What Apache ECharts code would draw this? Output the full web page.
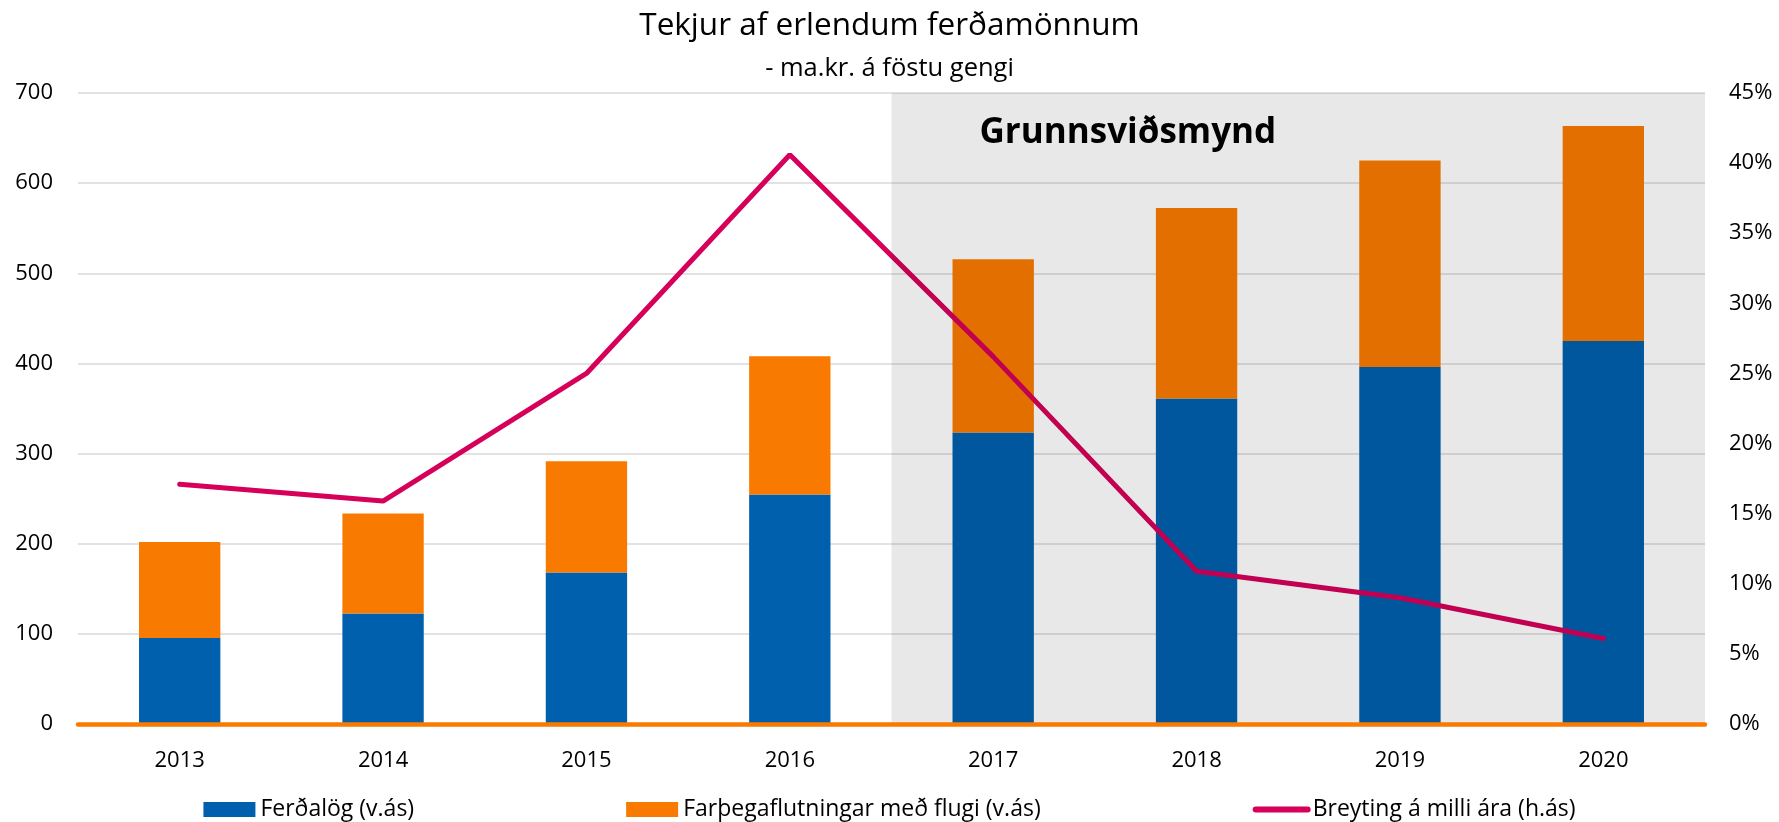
<!DOCTYPE html>
<html>
<head>
<meta charset="utf-8">
<title>Tekjur af erlendum ferðamönnum</title>
<script src="https://cdn.jsdelivr.net/npm/echarts@6.0.0/dist/echarts.min.js"></script>
<style>
	html, body { margin: 0; padding: 0; background: #fff; }
	#chart { width: 1779px; height: 822px; }
</style>
</head>
<body>
<div id="chart"></div>
<script>
	var years = ['2013', '2014', '2015', '2016', '2017', '2018', '2019', '2020'];
	// ma.kr. (v.ás)
	var ferdalog = [95.5, 122.5, 168, 254.5, 323.5, 361, 396, 425];
	var farthegaflutningar = [106.5, 111, 123.5, 153.5, 192, 211.5, 229, 238.5];
	// % (h.ás)
	var breyting = [17.1, 15.9, 25.0, 40.6, 26.2, 10.9, 9.0, 6.1];
	var leftTicks = [0, 700, 100];
	var rightTicks = [0, 45, 5];
	// fyrsta ár grunnsviðsmyndar
	var spaFra = '2017';

	var font = '"Open Sans", "Noto Sans", sans-serif';
	var spaIdx = years.indexOf(spaFra);

	var myChart = echarts.init(document.getElementById('chart'));

	var option = {
		animation: false,
		textStyle: { fontFamily: font },
		title: {
			text: 'Tekjur af erlendum ferðamönnum',
			subtext: '- ma.kr. á föstu gengi',
			left: 'center',
			top: 5,
			padding: [5, 23, 5, 5],
			itemGap: 14,
			textStyle: { fontFamily: font, fontSize: 31.5, fontWeight: 'normal', color: '#000' },
			subtextStyle: { fontFamily: font, fontSize: 25.5, color: '#000' }
		},
		grid: {
			left: 78,
			right: 74,
			top: 93,
			bottom: 98,
			containLabel: false
		},
		legend: {
			bottom: -4,
			left: 'center',
			padding: [5, 24, 5, 5],
			itemWidth: 52,
			itemHeight: 15,
			itemGap: 212,
			textStyle: { fontFamily: font, fontSize: 23, color: '#000' },
			data: [
				{ name: 'Ferðalög (v.ás)', icon: 'rect' },
				{ name: 'Farþegaflutningar með flugi (v.ás)', icon: 'rect' },
				{
					name: 'Breyting á milli ára (h.ás)',
					itemStyle: { opacity: 0 },
					lineStyle: { width: 6, cap: 'round' }
				}
			]
		},
		xAxis: [{
			type: 'category',
			data: years,
			z: 20,
			axisLine: { lineStyle: { color: '#F97A00', width: 4.5 } },
			axisTick: { show: false },
			axisLabel: { margin: 26, fontFamily: font, fontSize: 22, color: '#000' }
		}, {
			// falinn ás fyrir skyggða svæðið
			type: 'value',
			min: -0.5,
			max: years.length - 0.5,
			show: false
		}],
		yAxis: [{
			type: 'value',
			min: leftTicks[0],
			max: leftTicks[1],
			interval: leftTicks[2],
			axisLine: { show: false },
			axisTick: { show: false },
			splitLine: { lineStyle: { color: '#D9D9D9', width: 1.5 } },
			axisLabel: { margin: 25, fontFamily: font, fontSize: 22, color: '#000' }
		}, {
			type: 'value',
			min: rightTicks[0],
			max: rightTicks[1],
			interval: rightTicks[2],
			axisLine: { show: false },
			axisTick: { show: false },
			splitLine: { show: false },
			axisLabel: { margin: 24, fontFamily: font, fontSize: 22, color: '#000', formatter: '{value}%' }
		}],
		series: [{
			name: 'Ferðalög (v.ás)',
			type: 'bar',
			stack: 'tekjur',
			barWidth: '40%',
			itemStyle: { color: '#0060AD' },
			data: ferdalog
		}, {
			name: 'Farþegaflutningar með flugi (v.ás)',
			type: 'bar',
			stack: 'tekjur',
			itemStyle: { color: '#F97A00' },
			data: farthegaflutningar
		}, {
			name: 'Breyting á milli ára (h.ás)',
			type: 'line',
			yAxisIndex: 1,
			symbol: 'none',
			lineStyle: { color: '#D6005A', width: 5, cap: 'round' },
			itemStyle: { color: '#D6005A' },
			data: breyting
		}, {
			// grunnsviðsmynd, dökk slikja yfir spáárin
			name: 'spa',
			type: 'line',
			xAxisIndex: 1,
			yAxisIndex: 0,
			z: 10,
			symbol: 'none',
			lineStyle: { opacity: 0 },
			data: [[spaIdx - 0.5, leftTicks[0]]],
			markArea: {
				silent: true,
				z: 10,
				itemStyle: { color: 'rgba(0,0,0,0.09)' },
				label: {
					show: true,
					position: [88, 23],
					fontFamily: font,
					fontSize: 35,
					fontWeight: 'bold',
					color: '#000'
				},
				data: [[
					{ name: 'Grunnsviðsmynd', xAxis: spaIdx - 0.5, yAxis: leftTicks[1] },
					{ xAxis: years.length - 0.5, yAxis: leftTicks[0] }
				]]
			}
		}]
	};

	myChart.setOption(option);
</script>
</body>
</html>
